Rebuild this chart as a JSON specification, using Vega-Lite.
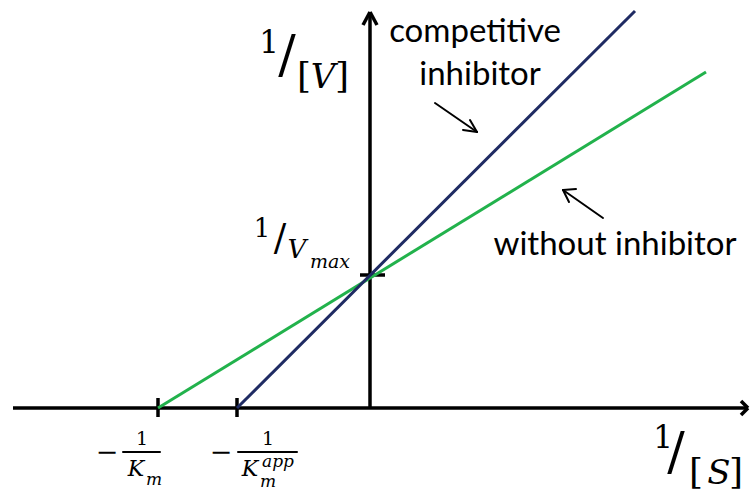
{
  "$schema": "https://vega.github.io/schema/vega-lite/v6.json",
  "width": 750,
  "height": 490,
  "autosize": {"type": "none"},
  "padding": 0,
  "background": "white",
  "config": {"view": {"stroke": null}},
  "datasets": {
    "lines": [
      {"series": "without inhibitor", "x": -212, "y": 0},
      {"series": "without inhibitor", "x": 336, "y": 336},
      {"series": "competitive inhibitor", "x": -133, "y": 0},
      {"series": "competitive inhibitor", "x": 265, "y": 397}
    ],
    "axes": [
      {"x": -357, "y": 0, "x2": 378, "y2": 0},
      {"x": 0, "y": 0, "x2": 0, "y2": 396},
      {"x": 0, "y": 396, "x2": -7, "y2": 383},
      {"x": 0, "y": 396, "x2": 7, "y2": 383},
      {"x": 378, "y": 0, "x2": 371, "y2": 7},
      {"x": 378, "y": 0, "x2": 371, "y2": -7},
      {"x": -212, "y": 10, "x2": -212, "y2": -9},
      {"x": -133, "y": 10, "x2": -133, "y2": -9},
      {"x": -10, "y": 133, "x2": 15, "y2": 133}
    ],
    "thin": [
      {"x": 65, "y": 305, "x2": 107, "y2": 276},
      {"x": 107, "y": 276, "x2": 100, "y2": 288},
      {"x": 107, "y": 276, "x2": 93, "y2": 278},
      {"x": 233, "y": 190, "x2": 193, "y2": 218},
      {"x": 193, "y": 218, "x2": 206, "y2": 219},
      {"x": 193, "y": 218, "x2": 199, "y2": 206},
      {"x": -247, "y": -44, "x2": -210, "y2": -44},
      {"x": -132, "y": -44, "x2": -73, "y2": -44}
    ],
    "math": [
      {"t": "1", "x": -101, "y": 355, "r": "one"},
      {"t": "/", "x": -83, "y": 336, "r": "slash"},
      {"t": "[", "x": -66, "y": 320, "r": "br"},
      {"t": "]", "x": -28, "y": 320, "r": "br"},
      {"t": "1", "x": -108, "y": 171, "r": "one2"},
      {"t": "/", "x": -90, "y": 158, "r": "slash2"},
      {"t": "1", "x": 293, "y": -40, "r": "one"},
      {"t": "/", "x": 306, "y": -61, "r": "slash"},
      {"t": "[", "x": 326, "y": -76, "r": "br"},
      {"t": "]", "x": 366, "y": -76, "r": "br"},
      {"t": "−", "x": -263, "y": -53, "r": "minus"},
      {"t": "−", "x": -149, "y": -53, "r": "minus"},
      {"t": "1", "x": -228, "y": -37, "r": "frac"},
      {"t": "1", "x": -102, "y": -37, "r": "frac"},
      {"t": "V", "x": -47, "y": 320, "r": "var"},
      {"t": "S", "x": 349, "y": -76, "r": "var"},
      {"t": "V", "x": -73, "y": 150, "r": "vmaxV"},
      {"t": "max", "x": -40, "y": 140, "r": "sub"},
      {"t": "K", "x": -234, "y": -68, "r": "K"},
      {"t": "m", "x": -216, "y": -77, "r": "sub2"},
      {"t": "K", "x": -120, "y": -68, "r": "K"},
      {"t": "app", "x": -92, "y": -59, "r": "sub2"},
      {"t": "m", "x": -102, "y": -79, "r": "sub2"}
    ],
    "labels": [
      {"t": "competitive", "x": 105, "y": 366},
      {"t": "inhibitor", "x": 110, "y": 323},
      {"t": "without inhibitor", "x": 245, "y": 153}
    ]
  },
  "encoding": {
    "x": {"field": "x", "type": "quantitative", "scale": {"domain": [-370, 380], "zero": false, "nice": false}, "axis": null},
    "y": {"field": "y", "type": "quantitative", "scale": {"domain": [-82, 408], "zero": false, "nice": false}, "axis": null}
  },
  "layer": [
    {
      "data": {"name": "axes"},
      "mark": {"type": "rule", "color": "black", "strokeWidth": 3.5, "strokeCap": "butt"},
      "encoding": {"x2": {"field": "x2"}, "y2": {"field": "y2"}}
    },
    {
      "data": {"name": "lines"},
      "mark": {"type": "line", "strokeWidth": 3},
      "encoding": {
        "detail": {"field": "series"},
        "color": {"field": "series", "type": "nominal", "scale": {"domain": ["without inhibitor", "competitive inhibitor"], "range": ["#22b24c", "#1f2b63"]}, "legend": null}
      }
    },
    {
      "data": {"name": "thin"},
      "mark": {"type": "rule", "color": "black", "strokeWidth": 2, "strokeCap": "round"},
      "encoding": {"x2": {"field": "x2"}, "y2": {"field": "y2"}}
    },
    {"data": {"name": "math"}, "transform": [{"filter": "datum.r === 'one'"}],
     "mark": {"type": "text", "font": "DejaVu Serif", "fontSize": 31, "align": "center", "baseline": "alphabetic", "color": "black"},
     "encoding": {"text": {"field": "t"}}},
    {"data": {"name": "math"}, "transform": [{"filter": "datum.r === 'slash'"}],
     "mark": {"type": "text", "font": "DejaVu Serif", "fontSize": 52, "align": "center", "baseline": "alphabetic", "color": "black"},
     "encoding": {"text": {"field": "t"}}},
    {"data": {"name": "math"}, "transform": [{"filter": "datum.r === 'br'"}],
     "mark": {"type": "text", "font": "DejaVu Serif", "fontSize": 36, "align": "center", "baseline": "alphabetic", "color": "black"},
     "encoding": {"text": {"field": "t"}}},
    {"data": {"name": "math"}, "transform": [{"filter": "datum.r === 'one2'"}],
     "mark": {"type": "text", "font": "DejaVu Serif", "fontSize": 26, "align": "center", "baseline": "alphabetic", "color": "black"},
     "encoding": {"text": {"field": "t"}}},
    {"data": {"name": "math"}, "transform": [{"filter": "datum.r === 'slash2'"}],
     "mark": {"type": "text", "font": "DejaVu Serif", "fontSize": 37, "align": "center", "baseline": "alphabetic", "color": "black"},
     "encoding": {"text": {"field": "t"}}},
    {"data": {"name": "math"}, "transform": [{"filter": "datum.r === 'minus'"}],
     "mark": {"type": "text", "font": "DejaVu Serif", "fontSize": 27, "align": "center", "baseline": "alphabetic", "color": "black"},
     "encoding": {"text": {"field": "t"}}},
    {"data": {"name": "math"}, "transform": [{"filter": "datum.r === 'frac'"}],
     "mark": {"type": "text", "font": "DejaVu Serif", "fontSize": 19, "align": "center", "baseline": "alphabetic", "color": "black"},
     "encoding": {"text": {"field": "t"}}},
    {"data": {"name": "math"}, "transform": [{"filter": "datum.r === 'var'"}],
     "mark": {"type": "text", "font": "DejaVu Serif", "fontStyle": "italic", "fontSize": 34, "align": "center", "baseline": "alphabetic", "color": "black"},
     "encoding": {"text": {"field": "t"}}},
    {"data": {"name": "math"}, "transform": [{"filter": "datum.r === 'vmaxV'"}],
     "mark": {"type": "text", "font": "DejaVu Serif", "fontStyle": "italic", "fontSize": 26, "align": "center", "baseline": "alphabetic", "color": "black"},
     "encoding": {"text": {"field": "t"}}},
    {"data": {"name": "math"}, "transform": [{"filter": "datum.r === 'sub'"}],
     "mark": {"type": "text", "font": "DejaVu Serif", "fontStyle": "italic", "fontSize": 19, "align": "center", "baseline": "alphabetic", "color": "black"},
     "encoding": {"text": {"field": "t"}}},
    {"data": {"name": "math"}, "transform": [{"filter": "datum.r === 'K'"}],
     "mark": {"type": "text", "font": "DejaVu Serif", "fontStyle": "italic", "fontSize": 22, "align": "center", "baseline": "alphabetic", "color": "black"},
     "encoding": {"text": {"field": "t"}}},
    {"data": {"name": "math"}, "transform": [{"filter": "datum.r === 'sub2'"}],
     "mark": {"type": "text", "font": "DejaVu Serif", "fontStyle": "italic", "fontSize": 17, "align": "center", "baseline": "alphabetic", "color": "black"},
     "encoding": {"text": {"field": "t"}}},
    {
      "data": {"name": "labels"},
      "mark": {"type": "text", "font": "Lato", "fontSize": 33, "align": "center", "baseline": "alphabetic", "color": "black"},
      "encoding": {"text": {"field": "t"}}
    }
  ]
}
